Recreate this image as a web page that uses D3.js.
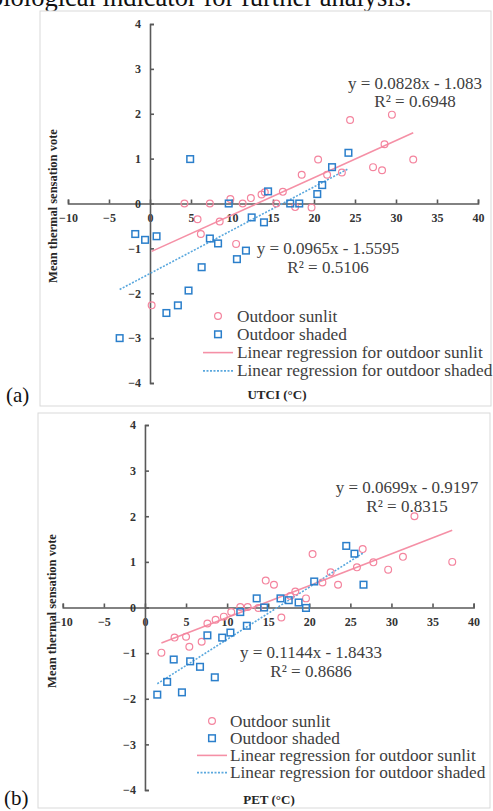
<html lang="en">
<head>
  <meta charset="UTF-8" />
  <title>MTSV vs UTCI and PET</title>
  <script src="https://d3js.org/d3.v7.min.js"></script>
  <style>
    body {
      margin: 0;
      background: #fff;
      overflow: hidden;
    }
    text {
      font-family: "Liberation Serif", "Times New Roman", serif;
    }
    .axis path,
    .axis line {
      stroke: #595959;
      stroke-width: 1.6px;
    }
    .axis text {
      font-weight: bold;
      font-size: 12px;
      fill: #333;
    }
  </style>
</head>
<body>
  <svg id="chart" width="493" height="811"></svg>
  <script>
    // ---- data ----
    const xTicks = [-10, -5, 0, 5, 10, 15, 20, 25, 30, 35, 40];
    const yTicks = [-4, -3, -2, -1, 0, 1, 2, 3, 4];

    // panel (a): UTCI
    const utciSunlit = [
      [0.2, -2.27], [4.2, 0], [5.8, -0.35], [6.2, -0.68], [7.3, 0], [8.5, -0.4],
      [9.8, 0.1], [10.5, -0.9], [11.3, 0], [12.3, 0.12], [13.6, 0.2], [14.0, 0.25],
      [15.4, 0], [16.2, 0.26], [17.7, -0.08], [18.5, 0.64], [19.7, -0.09], [20.5, 0.98],
      [21.6, 0.64], [23.4, 0.69], [24.4, 1.86], [27.2, 0.81], [28.3, 0.74], [28.6, 1.32],
      [29.5, 1.98], [32.1, 0.98]
    ];
    const utciShaded = [
      [-3.7, -3.0], [-1.8, -0.68], [-0.6, -0.81], [0.8, -0.73], [2.0, -2.44], [3.4, -2.27],
      [4.7, -1.94], [4.9, 0.99], [6.3, -1.42], [7.3, -0.78], [8.3, -0.89], [9.6, 0],
      [10.6, -1.24], [11.7, -1.05], [12.4, -0.31], [13.9, -0.42], [14.4, 0.27], [17.1, 0],
      [18.2, 0], [20.4, 0.21], [21.0, 0.41], [22.2, 0.81], [24.2, 1.13]
    ];
    const utciSunlitFit = [0.0828, -1.083];
    const utciShadedFit = [0.0965, -1.5595];
    const utciLabels = ["y = 0.0828x - 1.083", "R² = 0.6948", "y = 0.0965x - 1.5595", "R² = 0.5106"];

    // panel (b): PET
    const petSunlit = [
      [2.0, -0.99], [3.6, -0.66], [5.0, -0.64], [5.4, -0.86], [6.9, -0.75], [7.6, -0.35],
      [8.6, -0.27], [9.6, -0.2], [10.5, -0.1], [11.6, 0.01], [12.5, 0.01], [13.8, -0.01],
      [14.7, 0.59], [15.7, 0.5], [16.6, -0.22], [17.7, 0.25], [18.3, 0.35], [19.6, 0.2],
      [20.4, 1.17], [21.6, 0.55], [22.6, 0.77], [23.5, 0.5], [25.8, 0.88], [26.5, 1.28],
      [27.8, 0.99], [29.6, 0.83], [31.4, 1.11], [32.8, 2.0], [37.4, 1.0]
    ];
    const petShaded = [
      [1.5, -1.91], [2.7, -1.63], [3.5, -1.14], [4.5, -1.86], [5.5, -1.18], [6.7, -1.3],
      [7.6, -0.61], [8.5, -1.53], [9.4, -0.66], [10.4, -0.55], [11.6, -0.1], [12.4, -0.4],
      [13.6, 0.2], [14.5, 0], [16.5, 0.2], [17.5, 0.16], [18.7, 0.11], [19.6, -0.01],
      [20.6, 0.57], [24.5, 1.35], [25.5, 1.18], [26.6, 0.5]
    ];
    const petSunlitFit = [0.0699, -0.9197];
    const petShadedFit = [0.1144, -1.8433];
    const petLabels = ["y = 0.0699x - 0.9197", "R² = 0.8315", "y = 0.1144x - 1.8433", "R² = 0.8686"];

    const legendLabels = [
      "Outdoor sunlit",
      "Outdoor shaded",
      "Linear regression for outdoor sunlit",
      "Linear regression for outdoor shaded"
    ];

    const pink = "#f4849e";
    const blue = "#2b7fcb";
    const pinkLine = "#f590a6";
    const blueLine = "#5aa8de";

    const svg = d3.select("svg#chart");

    // cut-off line of body text above the figure
    svg.append("text")
      .attr("x", -10)
      .attr("y", 6)
      .attr("font-size", 26.5)
      .attr("fill", "#111")
      .text("biological indicator for further analysis.");

    function drawPanel(p) {
      const g = svg.append("g");

      // panel frame
      g.append("rect")
        .attr("x", p.box[0]).attr("y", p.box[1])
        .attr("width", p.box[2]).attr("height", p.box[3])
        .attr("fill", "white")
        .attr("stroke", "#d9d9d9")
        .attr("stroke-width", 1);

      const x = d3.scaleLinear().domain([-10, 40]).range(p.xRange);
      const y = d3.scaleLinear().domain([-4, 4]).range(p.yRange);

      // x axis crosses at y = 0
      g.append("g")
        .attr("class", "axis")
        .attr("transform", `translate(0,${y(0)})`)
        .call(d3.axisBottom(x).tickValues(xTicks).tickSize(-4).tickSizeOuter(-4).tickPadding(10));

      // y axis crosses at x = 0
      g.append("g")
        .attr("class", "axis")
        .attr("transform", `translate(${x(0)},0)`)
        .call(d3.axisLeft(y).tickValues(yTicks).tickSize(-4).tickSizeOuter(-4).tickPadding(9));

      // trend lines
      const fitLine = (pts, fit, color, dash) => {
        const ext = d3.extent(pts, d => d[0]);
        g.append("line")
          .attr("x1", x(ext[0])).attr("y1", y(fit[0] * ext[0] + fit[1]))
          .attr("x2", x(ext[1])).attr("y2", y(fit[0] * ext[1] + fit[1]))
          .attr("stroke", color)
          .attr("stroke-width", 1.6)
          .attr("stroke-dasharray", dash);
      };
      fitLine(p.sunlit, p.sunlitFit, pinkLine, null);
      fitLine(p.shaded, p.shadedFit, blueLine, "2,1.5");

      // points
      g.selectAll("circle.sun")
        .data(p.sunlit)
        .join("circle")
        .attr("class", "sun")
        .attr("cx", d => x(d[0]))
        .attr("cy", d => y(d[1]))
        .attr("r", 3.4)
        .attr("fill", "none")
        .attr("stroke", pink)
        .attr("stroke-width", 1.2);

      g.selectAll("rect.shade")
        .data(p.shaded)
        .join("rect")
        .attr("class", "shade")
        .attr("x", d => x(d[0]) - 3.3)
        .attr("y", d => y(d[1]) - 3.3)
        .attr("width", 6.6)
        .attr("height", 6.6)
        .attr("fill", "none")
        .attr("stroke", blue)
        .attr("stroke-width", 1.5);

      // equations
      p.eqPos.forEach((pos, i) => {
        g.append("text")
          .attr("x", pos[0])
          .attr("y", pos[1])
          .attr("text-anchor", "middle")
          .attr("font-size", 17)
          .attr("fill", "#404040")
          .text(p.labels[i]);
      });

      // legend
      const lg = g.append("g");
      legendLabels.forEach((lab, i) => {
        const cy = p.legend.y + i * p.legend.step;
        if (i === 0) {
          lg.append("circle")
            .attr("cx", p.legend.mx).attr("cy", cy).attr("r", 3.4)
            .attr("fill", "none").attr("stroke", pink).attr("stroke-width", 1.2);
        } else if (i === 1) {
          lg.append("rect")
            .attr("x", p.legend.mx - 3.3).attr("y", cy - 3.3)
            .attr("width", 6.6).attr("height", 6.6)
            .attr("fill", "none").attr("stroke", blue).attr("stroke-width", 1.5);
        } else {
          lg.append("line")
            .attr("x1", p.legend.mx - 15).attr("x2", p.legend.mx + 15)
            .attr("y1", cy).attr("y2", cy)
            .attr("stroke", i === 2 ? pinkLine : blueLine)
            .attr("stroke-width", 1.6)
            .attr("stroke-dasharray", i === 2 ? null : "2,1.5");
        }
        lg.append("text")
          .attr("x", p.legend.tx)
          .attr("y", cy + 5.5)
          .attr("font-size", 17.3)
          .attr("fill", "#404040")
          .text(lab);
      });

      // axis titles
      g.append("text")
        .attr("transform", `translate(${p.yTitle[0]},${p.yTitle[1]}) rotate(-90)`)
        .attr("text-anchor", "middle")
        .attr("font-size", 12.5)
        .attr("font-weight", "bold")
        .attr("fill", "#262626")
        .text("Mean thermal sensation vote");

      g.append("text")
        .attr("x", p.xTitle[0])
        .attr("y", p.xTitle[1])
        .attr("text-anchor", "middle")
        .attr("font-size", 13)
        .attr("font-weight", "bold")
        .attr("fill", "#262626")
        .text(p.xName);

      // panel letter
      svg.append("text")
        .attr("x", p.letter[0])
        .attr("y", p.letter[1])
        .attr("font-size", 21)
        .attr("fill", "#111")
        .text(p.letterText);
    }

    drawPanel({
      box: [40, 11, 451, 395],
      xRange: [68, 478],
      yRange: [383, 24],
      sunlit: utciSunlit,
      shaded: utciShaded,
      sunlitFit: utciSunlitFit,
      shadedFit: utciShadedFit,
      labels: utciLabels,
      eqPos: [[415, 89], [415, 107], [328, 254], [328, 273]],
      legend: { y: 316, step: 18.3, mx: 218, tx: 237 },
      yTitle: [57, 206],
      xTitle: [277, 399],
      xName: "UTCI (°C)",
      letter: [6, 402],
      letterText: "(a)"
    });

    drawPanel({
      box: [38, 413, 452, 395],
      xRange: [62.8, 473.6],
      yRange: [790, 425],
      sunlit: petSunlit,
      shaded: petShaded,
      sunlitFit: petSunlitFit,
      shadedFit: petShadedFit,
      labels: petLabels,
      eqPos: [[407, 493], [407, 512], [311, 658], [311, 677]],
      legend: { y: 721, step: 17.2, mx: 212, tx: 230 },
      yTitle: [56, 611],
      xTitle: [269, 804],
      xName: "PET (°C)",
      letter: [4, 805],
      letterText: "(b)"
    });
  </script>
</body>
</html>
